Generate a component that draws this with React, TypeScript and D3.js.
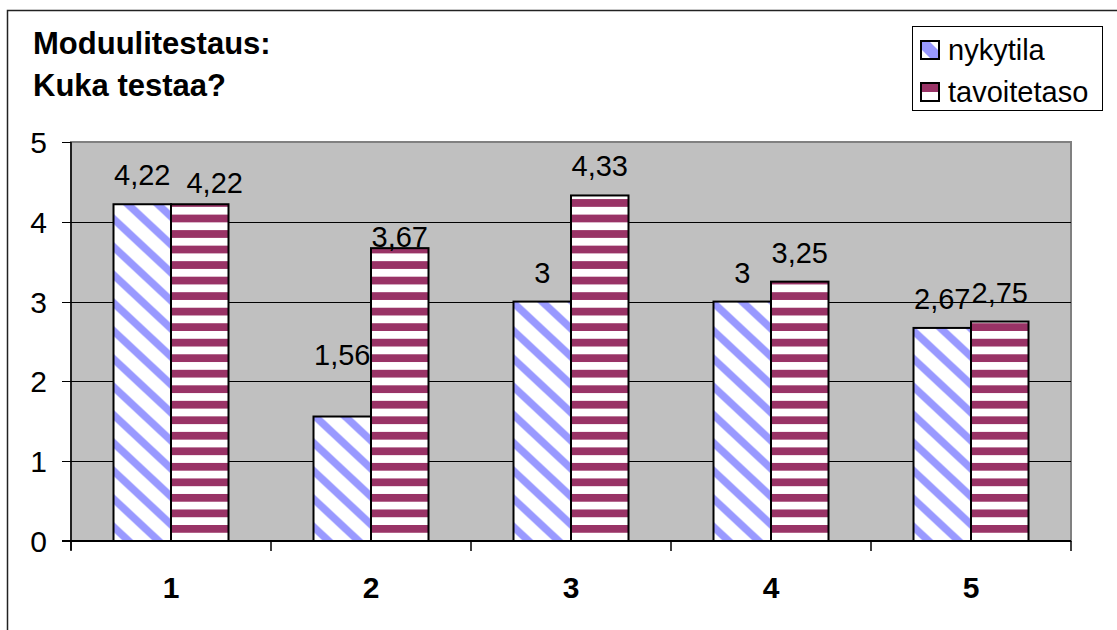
import React, { useEffect, useRef } from 'react';
import * as d3 from 'd3';

const categories = ['1', '2', '3', '4', '5'];
const seriesNames = ['nykytila', 'tavoitetaso'];
const nykytila = [4.22, 1.56, 3, 3, 2.67];
const tavoitetaso = [4.22, 3.67, 4.33, 3.25, 2.75];
const yTicks = [0, 1, 2, 3, 4, 5];
const titleLines = ['Moduulitestaus:', 'Kuka testaa?'];

// labels that were dragged by hand in the original chart (vertical nudge, px)
const labelNudge: Record<string, number> = { '2-nykytila': -33, '2-tavoitetaso': 18 };

const W = 1117;
const H = 630;
const font = 'Arial, "Liberation Sans", sans-serif';

const App: React.FC = () => {
  const svgRef = useRef<SVGSVGElement | null>(null);

  useEffect(() => {
    document.body.style.margin = '0';
    const svg = d3.select(svgRef.current!);
    svg.selectAll('*').remove();

    const left = 71, right = 1071, top = 142, bottom = 541;

    const x0 = d3.scaleBand<string>()
      .domain(categories)
      .range([left, right])
      .paddingInner(0.425)
      .paddingOuter(0.2125);
    const x1 = d3.scaleBand<string>()
      .domain(seriesNames)
      .range([0, x0.bandwidth()]);
    const y = d3.scaleLinear().domain([0, 5]).range([bottom, top]);

    const defs = svg.append('defs');

    // wide downward diagonal (blue on white)
    const pw = 30, ph = 28, band = 11;
    const diag = defs.append('pattern')
      .attr('id', 'diag')
      .attr('patternUnits', 'userSpaceOnUse')
      .attr('width', pw)
      .attr('height', ph);
    diag.append('rect').attr('width', pw).attr('height', ph).attr('fill', '#fff');
    diag.append('path')
      .attr('d', `M0,0 L${band},0 L${pw},${ph * (pw - band) / pw} L${pw},${ph} Z M0,${ph * (pw - band) / pw} L${band},${ph} L0,${ph} Z`)
      .attr('fill', '#9999FF');

    // wide horizontal stripes (maroon on white)
    const sp = 15.52;
    const horiz = defs.append('pattern')
      .attr('id', 'horiz')
      .attr('patternUnits', 'userSpaceOnUse')
      .attr('width', 20)
      .attr('height', sp)
      .attr('y', 525 % sp);
    horiz.append('rect').attr('width', 20).attr('height', sp).attr('fill', '#fff');
    horiz.append('rect').attr('width', 20).attr('height', sp / 2).attr('fill', '#993366');

    // outer frame
    svg.append('rect')
      .attr('x', 7.5).attr('y', 10.5)
      .attr('width', W + 20).attr('height', H + 20)
      .attr('fill', '#fff')
      .attr('stroke', '#222')
      .attr('stroke-width', 1.5);

    // plot area
    svg.append('rect')
      .attr('x', left).attr('y', top)
      .attr('width', right - left).attr('height', bottom - top)
      .attr('fill', '#C0C0C0')
      .attr('stroke', '#808080')
      .attr('stroke-width', 2);

    // gridlines
    svg.append('g')
      .selectAll('line')
      .data(yTicks.filter(t => t > 0 && t < 5))
      .enter()
      .append('line')
      .attr('x1', left).attr('x2', right)
      .attr('y1', d => Math.round(y(d)) + 0.5).attr('y2', d => Math.round(y(d)) + 0.5)
      .attr('stroke', '#000')
      .attr('stroke-width', 1);

    // bars
    const groups = svg.append('g')
      .selectAll('g')
      .data(categories)
      .enter()
      .append('g')
      .attr('transform', d => `translate(${x0(d)},0)`);

    const rows = (i: number) => [
      { cat: categories[i], key: 'nykytila', value: nykytila[i], fill: 'url(#diag)' },
      { cat: categories[i], key: 'tavoitetaso', value: tavoitetaso[i], fill: 'url(#horiz)' },
    ];

    groups.selectAll('rect')
      .data((_, i) => rows(i))
      .enter()
      .append('rect')
      .attr('x', d => x1(d.key)!)
      .attr('y', d => y(d.value))
      .attr('width', x1.bandwidth())
      .attr('height', d => bottom - y(d.value))
      .attr('fill', d => d.fill)
      .attr('stroke', '#000')
      .attr('stroke-width', 2);

    groups.each(function () {
      const labels = d3.select(this).selectAll<SVGTextElement, any>('text.val')
        .data((d: any) => rows(categories.indexOf(d)))
        .enter()
        .append('text')
        .attr('class', 'val')
        .attr('x', d => x1(d.key)! + x1.bandwidth() / 2)
        .attr('y', d => y(d.value) - 19 + (labelNudge[`${d.cat}-${d.key}`] || 0))
        .attr('text-anchor', 'middle')
        .attr('font-family', font)
        .attr('font-size', 29)
        .attr('fill', '#000')
        .text(d => String(d.value).replace('.', ','));

      // Excel-like nudge when two labels collide at the same height
      const nodes = labels.nodes();
      if (nodes.length === 2) {
        const a = nodes[0].getBBox();
        const b = nodes[1].getBBox();
        if (Math.abs(a.y - b.y) < 4 && b.x < a.x + a.width + 4) {
          const shift = a.x + a.width - b.x + 16;
          d3.select(nodes[1])
            .attr('x', +nodes[1].getAttribute('x')! + shift)
            .attr('y', +nodes[1].getAttribute('y')! + 8);
        }
      }
    });

    // axes
    const axis = svg.append('g');
    axis.append('line')
      .attr('x1', left).attr('x2', left)
      .attr('y1', top).attr('y2', bottom + 9)
      .attr('stroke', '#000').attr('stroke-width', 1.5);
    axis.append('line')
      .attr('x1', left - 9).attr('x2', right)
      .attr('y1', bottom).attr('y2', bottom)
      .attr('stroke', '#000').attr('stroke-width', 2);
    axis.selectAll('.yt')
      .data(yTicks)
      .enter()
      .append('line')
      .attr('x1', left - 9).attr('x2', left)
      .attr('y1', d => Math.round(y(d)) + 0.5).attr('y2', d => Math.round(y(d)) + 0.5)
      .attr('stroke', '#000').attr('stroke-width', 1);
    axis.selectAll('.ytl')
      .data(yTicks)
      .enter()
      .append('text')
      .attr('x', 47)
      .attr('y', d => y(d) + 11)
      .attr('text-anchor', 'end')
      .attr('font-family', font)
      .attr('font-size', 30)
      .text(d => d);

    const bounds = categories.map(c => x0(c)! - x0.step() * x0.paddingInner() / 2).concat([right]);
    bounds[0] = left;
    axis.selectAll('.xt')
      .data(bounds)
      .enter()
      .append('line')
      .attr('x1', d => d).attr('x2', d => d)
      .attr('y1', bottom).attr('y2', bottom + 10)
      .attr('stroke', '#000').attr('stroke-width', 1.5);
    axis.selectAll('.xtl')
      .data(categories)
      .enter()
      .append('text')
      .attr('x', d => x0(d)! + x0.bandwidth() / 2)
      .attr('y', 598)
      .attr('text-anchor', 'middle')
      .attr('font-family', font)
      .attr('font-size', 30)
      .attr('font-weight', 'bold')
      .text(d => d);

    // title
    svg.append('g')
      .selectAll('text')
      .data(titleLines)
      .enter()
      .append('text')
      .attr('x', 33)
      .attr('y', (_, i) => 54 + i * 42)
      .attr('font-family', font)
      .attr('font-size', 31)
      .attr('font-weight', 'bold')
      .text(d => d);

    // legend
    const lg = svg.append('g');
    lg.append('rect')
      .attr('x', 912.5).attr('y', 26.5)
      .attr('width', 190).attr('height', 84)
      .attr('fill', '#fff').attr('stroke', '#000').attr('stroke-width', 1);
    const items = seriesNames.map((name, i) => ({ name, i }));
    const li = lg.selectAll('g.item')
      .data(items)
      .enter()
      .append('g')
      .attr('transform', d => `translate(921,${41 + d.i * 42})`);
    li.append('rect')
      .attr('width', 18).attr('height', 18)
      .attr('fill', '#fff');
    li.filter(d => d.i === 0).append('path')
      .attr('d', 'M0,0 L8,0 L18,10 L18,18 L10,18 L0,8 Z')
      .attr('fill', '#9999FF');
    li.filter(d => d.i === 1).append('rect')
      .attr('width', 18).attr('height', 9)
      .attr('fill', '#993366');
    li.append('rect')
      .attr('width', 18).attr('height', 18)
      .attr('fill', 'none').attr('stroke', '#000').attr('stroke-width', 2);
    li.append('text')
      .attr('x', 27).attr('y', 19)
      .attr('font-family', font)
      .attr('font-size', 29)
      .text(d => d.name);
  }, []);

  return (
    <svg
      ref={svgRef}
      width={W}
      height={H}
      style={{ position: 'absolute', left: 0, top: 0, background: '#fff' }}
    />
  );
};

export default App;
